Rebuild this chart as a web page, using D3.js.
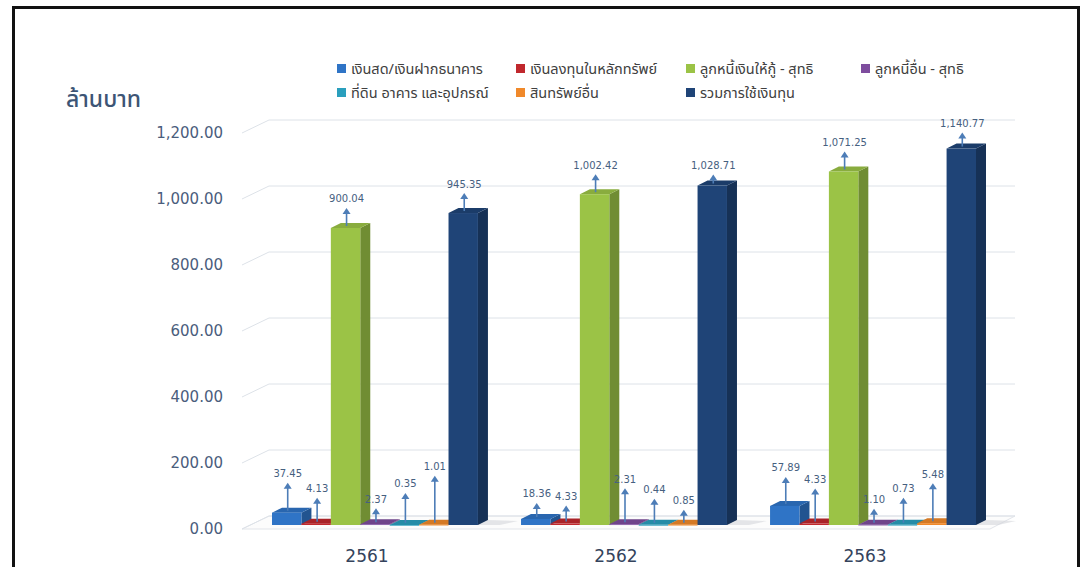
<!DOCTYPE html>
<html>
<head>
<meta charset="utf-8">
<script src="https://cdn.jsdelivr.net/npm/d3@7/dist/d3.min.js"></script>
<style>
  body { margin: 0; background: #fff; }
  text { font-family: "DejaVu Sans", sans-serif; }
  .thai { font-family: "Noto Sans Thai", Tahoma, "Noto Sans", sans-serif; }
</style>
</head>
<body>
<svg id="chart" width="1084" height="567"></svg>
<script>
// years (Thai calendar)
var years = ['2561', '2562', '2563'];

var seriesNames = [
  'เงินสด/เงินฝากธนาคาร',
  'เงินลงทุนในหลักทรัพย์',
  'ลูกหนี้เงินให้กู้ - สุทธิ',
  'ลูกหนี้อื่น - สุทธิ',
  'ที่ดิน อาคาร และอุปกรณ์',
  'สินทรัพย์อื่น',
  'รวมการใช้เงินทุน'
];
var seriesColors = ['#2f74c6', '#c0282d', '#9bc346', '#7e4d9e', '#2a9fbd', '#f0892a', '#1f4477'];

// million baht, one value per year
var cash = [37.45, 18.36, 57.89];
var securities = [4.13, 4.33, 4.33];
var loans = [900.04, 1002.42, 1071.25];
var otherDebtors = [2.37, 2.31, 1.10];
var landBuildings = [0.35, 0.44, 0.73];
var otherAssets = [1.01, 0.85, 5.48];
var totalUse = [945.35, 1028.71, 1140.77];

var yTicks = [0, 200, 400, 600, 800, 1000, 1200];

// how high each value label sits above its bar (px), as placed in the picture
var labelRise = [
  [36, 32, 26, 22, 38, 55, 26],
  [22, 24, 26, 42, 32, 21, 17],
  [35, 41, 26, 22, 33, 46, 22]
];

var series = [cash, securities, loans, otherDebtors, landBuildings, otherAssets, totalUse];

var svg = d3.select('#chart');

// 3d offsets: bar row sits a bit back from the floor front edge
var barShift = { x: 8, y: -4 };
var barDepth = { x: 10, y: -5 };
var wallShift = { x: 27, y: -13 };

var x0 = d3.scaleBand().domain(years).range([264, 968]).paddingInner(0.173);
var x1 = d3.scaleBand().domain(d3.range(series.length)).range([0, x0.bandwidth()]);
var y = d3.scaleLinear().domain([0, 1200]).range([529, 133]);

var floorLeft = 242, floorRight = 990;

// frame
svg.append('rect')
  .attr('x', 13.5).attr('y', 7.5)
  .attr('width', 1065).attr('height', 620)
  .attr('fill', 'none').attr('stroke', '#111').attr('stroke-width', 3);

// floor
var y0 = y(0);
svg.append('polygon')
  .attr('points', [
    [floorLeft, y0], [floorLeft + wallShift.x, y0 + wallShift.y],
    [floorRight + wallShift.x - 2, y0 + wallShift.y], [floorRight, y0]
  ].join(' '))
  .attr('fill', '#fcfcfc').attr('stroke', '#e2e5ea');

// grid lines (left wall + back wall)
var grid = svg.append('g');
yTicks.forEach(function (t) {
  var yy = y(t);
  grid.append('path')
    .attr('d', 'M' + floorLeft + ',' + yy +
      'L' + (floorLeft + wallShift.x) + ',' + (yy + wallShift.y) +
      'L' + (floorRight + wallShift.x - 2) + ',' + (yy + wallShift.y))
    .attr('fill', 'none').attr('stroke', '#dde2e8').attr('stroke-width', 1);
});

// y tick labels
svg.append('g').selectAll('text')
  .data(yTicks).enter().append('text')
  .attr('x', 223).attr('y', function (d) { return y(d); })
  .attr('dy', '0.36em').attr('text-anchor', 'end')
  .attr('font-size', 15).attr('fill', '#4a5d7c')
  .text(function (d) { return d3.format(',.2f')(d); });

// y title
svg.append('text')
  .attr('class', 'thai')
  .attr('x', 66).attr('y', 107)
  .attr('font-size', 23).attr('font-weight', 500).attr('fill', '#3d5575')
  .text('ล้านบาท');

// category labels
svg.append('g').selectAll('text')
  .data(years).enter().append('text')
  .attr('x', function (d) { return x0(d) + x0.bandwidth() / 2; })
  .attr('y', 562).attr('text-anchor', 'middle')
  .attr('font-size', 17).attr('fill', '#34435c')
  .text(function (d) { return d; });

// floor shadow to the right of each total bar
years.forEach(function (yr) {
  var bx = x0(yr) + barShift.x + x1(6) + x1.bandwidth();
  var by = y(0) + barShift.y;
  svg.append('polygon')
    .attr('points', [[bx, by], [bx + barDepth.x, by + barDepth.y], [bx + 40, by + barDepth.y + 1], [bx + 22, by]].join(' '))
    .attr('fill', '#d4d6da').attr('opacity', 0.6);
});

// bars
var barsG = svg.append('g');
var w = x1.bandwidth();
years.forEach(function (yr, gi) {
  series.forEach(function (vals, si) {
    var v = vals[gi];
    var c = d3.color(seriesColors[si]);
    var bx = x0(yr) + barShift.x + x1(si);
    var base = y(0) + barShift.y;
    var top = y(v) + barShift.y;
    var g = barsG.append('g');
    // side
    g.append('polygon')
      .attr('points', [[bx + w, top], [bx + w + barDepth.x, top + barDepth.y],
        [bx + w + barDepth.x, base + barDepth.y], [bx + w, base]].join(' '))
      .attr('fill', c.darker(0.9));
    // top
    g.append('polygon')
      .attr('points', [[bx, top], [bx + barDepth.x, top + barDepth.y],
        [bx + w + barDepth.x, top + barDepth.y], [bx + w, top]].join(' '))
      .attr('fill', c.darker(0.35));
    // front
    g.append('rect')
      .attr('x', bx).attr('y', top)
      .attr('width', w).attr('height', Math.max(base - top, 0.8))
      .attr('fill', c);
  });
});

// value labels with arrows
var lab = svg.append('g');
var arrowCol = '#4d7db7';
years.forEach(function (yr, gi) {
  series.forEach(function (vals, si) {
    var v = vals[gi];
    var cx = x0(yr) + barShift.x + x1(si) + w / 2 + 1;
    var top = y(v) + barShift.y;
    var ly = top - labelRise[gi][si];
    var tip = ly + 6;
    lab.append('line')
      .attr('x1', cx).attr('x2', cx)
      .attr('y1', top - 2).attr('y2', tip + 5)
      .attr('stroke', arrowCol).attr('stroke-width', 1.6);
    lab.append('path')
      .attr('d', 'M' + (cx - 4) + ',' + (tip + 6) + 'L' + cx + ',' + tip + 'L' + (cx + 4) + ',' + (tip + 6) + 'Z')
      .attr('fill', arrowCol);
    lab.append('text')
      .attr('x', cx).attr('y', ly).attr('dy', '0.05em')
      .attr('text-anchor', 'middle')
      .attr('font-size', 10).attr('fill', '#46607f')
      .text(d3.format(',.2f')(v));
  });
});

// legend
var legCols = [337, 516, 686, 861];
var legRows = [69, 93];
var leg = svg.append('g').selectAll('g')
  .data(seriesNames).enter().append('g')
  .attr('transform', function (d, i) {
    return 'translate(' + legCols[i % 4] + ',' + legRows[Math.floor(i / 4)] + ')';
  });
leg.append('rect')
  .attr('x', 0).attr('y', -5).attr('width', 9).attr('height', 9)
  .attr('fill', function (d, i) { return seriesColors[i]; });
leg.append('text')
  .attr('class', 'thai')
  .attr('x', 14).attr('y', 0).attr('dy', '0.35em')
  .attr('font-size', 14.5).attr('fill', '#404040')
  .text(function (d) { return d; });
</script>
</body>
</html>
